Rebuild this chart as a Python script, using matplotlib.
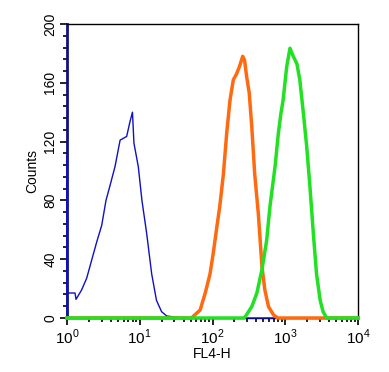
import numpy as np
import matplotlib
matplotlib.use("Agg")
import matplotlib.pyplot as plt
from matplotlib.ticker import MultipleLocator, LogLocator, NullFormatter

plt.rcParams['font.family'] = ['Liberation Sans', 'DejaVu Sans']
plt.rcParams['mathtext.fontset'] = 'custom'
plt.rcParams['mathtext.rm'] = 'Liberation Sans'

# log10(FL4-H) positions and counts
blue_exp = [0.0, 0.0, 0.005, 0.11, 0.124, 0.2, 0.27, 0.34, 0.41, 0.477, 0.536, 0.58, 0.66, 0.73,
            0.82, 0.866, 0.90, 0.92, 0.98, 1.03, 1.095, 1.164, 1.23, 1.30, 1.37, 1.5, 1.53, 4.0]
blue_cnt = [0, 110, 17, 17, 12.7, 19, 27, 39.5, 52, 63, 80, 88, 103, 121,
            123.5, 133.6, 140, 119, 103, 80, 57.6, 30, 12, 4.3, 1.4, 0.5, 0, 0]

orange_exp = [0.0, 1.71, 1.83, 1.90, 1.966, 2.01, 2.06, 2.10, 2.15, 2.195, 2.24, 2.286, 2.33, 2.37,
              2.415, 2.44, 2.47, 2.505, 2.54, 2.58, 2.63, 2.68, 2.72, 2.77, 2.84, 2.9, 4.0]
orange_cnt = [0, 0, 5.4, 17, 30, 44, 62, 76, 98, 125.6, 148, 162, 166, 171,
              178, 175.5, 164, 153, 130, 98, 71, 35, 19, 7.7, 2, 0, 0]

green_exp = [0.0, 2.43, 2.45, 2.54, 2.61, 2.68, 2.745, 2.79, 2.86, 2.905, 2.94, 2.97, 3.02, 3.065,
             3.11, 3.16, 3.20, 3.25, 3.295, 3.34, 3.386, 3.43, 3.48, 3.52, 3.57, 4.0]
green_cnt = [0, 0, 0.9, 7.7, 17, 33, 53, 76, 103, 125.6, 139, 148, 171, 183.5,
             178, 173, 162, 139, 116.6, 89, 57.6, 30, 12, 4.3, 0, 0]

x_ticks = [1, 10, 100, 1000, 10000]
x_ticklabels = [r'$10^0$', r'$10^1$', r'$10^2$', r'$10^3$', r'$10^4$']
y_ticks = [0, 40, 80, 120, 160, 200]

fig = plt.figure(figsize=(3.89, 3.72), dpi=100)
ax = fig.add_axes([67/389, 1-318/372, (358-67)/389, (318-24)/372])

ax.plot(10**np.array(blue_exp), blue_cnt, color='#1010C0', lw=1.0, clip_on=False, zorder=3)
ax.plot(10**np.array(orange_exp), orange_cnt, color='#FF6A10', lw=2.5, clip_on=False, zorder=4)
ax.plot(10**np.array(green_exp), green_cnt, color='#22E022', lw=2.5, clip_on=False, zorder=5)

ax.set_xscale('log')
ax.set_xlim(1, 10000)
ax.set_ylim(0, 200)
ax.set_xticks(x_ticks)
ax.set_xticklabels(x_ticklabels, fontsize=11)
ax.xaxis.set_minor_locator(LogLocator(base=10, subs=np.arange(2, 10), numticks=20))
ax.xaxis.set_minor_formatter(NullFormatter())
ax.set_yticks(y_ticks)
ax.set_yticklabels([str(v) for v in y_ticks], fontsize=10, rotation=90, va='center')
ax.yaxis.set_minor_locator(MultipleLocator(8))
ax.tick_params(which='major', length=5, width=1.2, direction='out', pad=2)
ax.tick_params(which='minor', length=3, width=1.2, direction='out')

for s in ['top', 'right']:
    ax.spines[s].set_linewidth(1.0)
    ax.spines[s].set_color('black')
ax.spines['left'].set_color('#101080')
ax.spines['left'].set_linewidth(2.0)
ax.spines['bottom'].set_linewidth(1.0)

ax.set_xlabel('FL4-H', fontsize=10, labelpad=0)
ax.set_ylabel('Counts', fontsize=10, labelpad=3)

fig.savefig('out.png', dpi=100)
